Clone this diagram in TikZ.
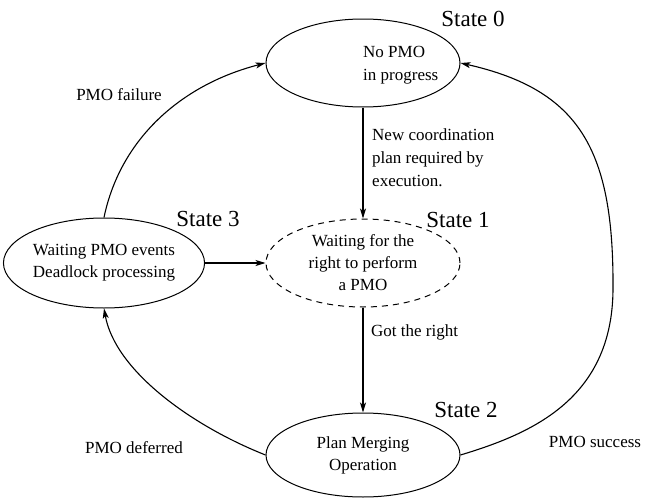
\documentclass[tikz,border=0pt]{standalone}
\usepackage{fontspec}
\setmainfont{Liberation Serif}
\usetikzlibrary{shapes.geometric,arrows.meta}
\begin{document}
\begin{tikzpicture}[x=1pt,y=-1pt,
  stateov/.style={ellipse, draw, line width=1pt, minimum width=194pt, minimum height=88pt, inner sep=0pt, font=\fontsize{17}{22}\selectfont, align=center},
  dashov/.style={stateov, dash pattern=on 6pt off 5pt},
  lbl/.style={font=\fontsize{17}{23}\selectfont, inner sep=0pt, align=left},
  stlbl/.style={font=\fontsize{23}{27}\selectfont, inner sep=0pt},
  conn/.style={line width=1.1pt, -{Stealth[length=10pt,width=6pt,inset=2.5pt]}}]
\useasboundingbox (0,0) rectangle (646,498);

% states
\node[stateov] (s0) at (363,63) {};
\node[lbl, anchor=west] (t0) at (363,65) {No PMO\\in progress};
\node[dashov] (s1) at (363,263) {Waiting for the\\right to perform\\a PMO};
\node[stateov, minimum height=90pt] (s3) at (104,263) {Waiting PMO events\\Deadlock processing};
\node[stateov, minimum height=84pt] (s2) at (363,455) {Plan Merging\\Operation};

% state labels
\node[stlbl] (n0) at (473,19) {State 0};
\node[stlbl] (n1) at (458,220) {State 1};
\node[stlbl] (n3) at (208,219) {State 3};
\node[stlbl] (n2) at (466,410) {State 2};

% connectors
\draw[conn] (s0.south) -- (s1.north);
\draw[conn] (s3.east) -- (s1.west);
\draw[conn] (s1.south) -- (s2.north);
\draw[conn] (s3.north) .. controls (120,140) and (180,85) .. (s0.west);
\draw[conn] (s2.west) .. controls (190,425) and (115,370) .. (s3.south);
\draw[conn] (s2.east) .. controls (530,434) and (612,400) .. (613,290)
  .. controls (614,150) and (580,90) .. (s0.east);

% edge labels
\node[lbl, anchor=west] (e01) at (372,158) {New coordination\\plan required by\\execution.};
\node[lbl, anchor=west] (e12) at (371,332) {Got the right};
\node[lbl] (e30) at (119,95) {PMO failure};
\node[lbl] (e23) at (134,448) {PMO deferred};
\node[lbl] (e20) at (595,442) {PMO success};
\end{tikzpicture}
\end{document}
